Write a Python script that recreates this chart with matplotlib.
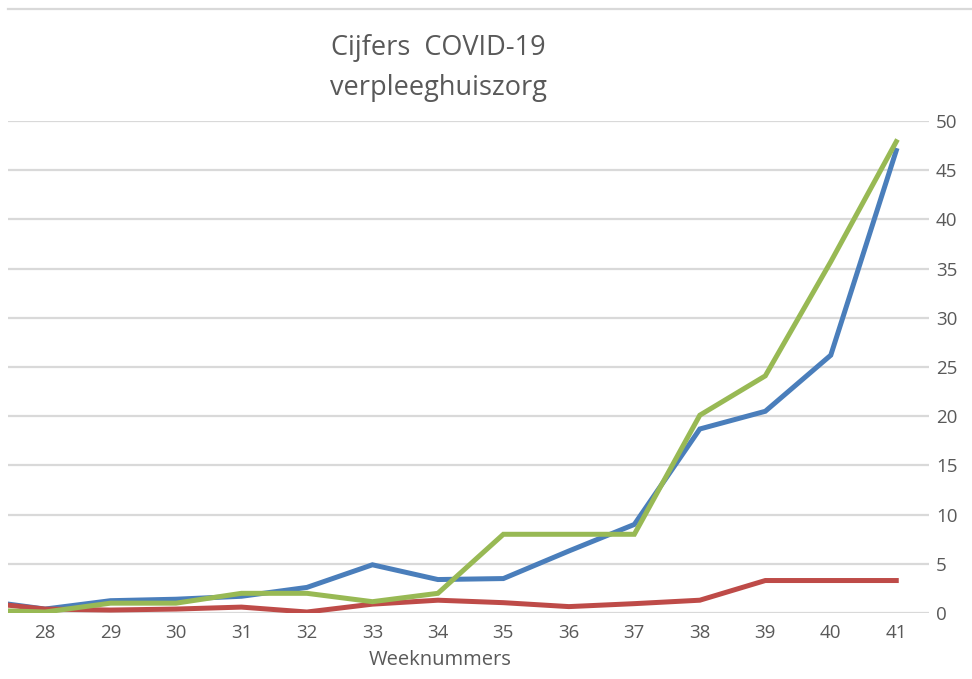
import matplotlib.pyplot as plt
from matplotlib.lines import Line2D

weeks = [27, 28, 29, 30, 31, 32, 33, 34, 35, 36, 37, 38, 39, 40, 41]
blue = [1.3, 0.4, 1.25, 1.4, 1.7, 2.6, 4.9, 3.4, 3.5, 6.3, 9.0, 18.7, 20.5, 26.2, 47.0]
red = [1.1, 0.4, 0.3, 0.4, 0.6, 0.1, 0.9, 1.3, 1.05, 0.65, 0.95, 1.3, 3.3, 3.3, 3.3]
green = [0.3, 0.1, 1.0, 1.0, 2.0, 2.0, 1.15, 2.0, 8.0, 8.0, 8.0, 20.1, 24.1, 35.7, 47.9]
yticks = [0, 5, 10, 15, 20, 25, 30, 35, 40, 45, 50]

plt.rcParams['font.family'] = ['Open Sans', 'DejaVu Sans']
grey = '#595959'

fig = plt.figure(figsize=(9.72, 6.79), dpi=100)
ax = fig.add_axes([8/972, 1 - 613/679, (929 - 8)/972, (613 - 121)/679])

ax.plot(weeks, blue, color='#4a7ebb', lw=3.6, solid_joinstyle='miter')
ax.plot(weeks, red, color='#be4b48', lw=3.6, solid_joinstyle='miter')
ax.plot(weeks, green, color='#98b954', lw=3.6, solid_joinstyle='miter')

ax.set_xlim(27.435, 41.5)
ax.set_ylim(0, 50)
ax.set_xticks(weeks[1:])
ax.set_xticklabels([str(w) for w in weeks[1:]])
ax.set_yticks(yticks)
ax.yaxis.tick_right()
ax.tick_params(axis='both', length=0, labelsize=13.5, colors=grey)
ax.tick_params(axis='y', pad=5)
ax.tick_params(axis='x', pad=8)
ax.grid(axis='y', color='#d9d9d9', lw=1.6)
ax.set_axisbelow(True)
for s in ax.spines.values():
    s.set_visible(False)

fig.text(438/972, 1 - 68/679, 'Cijfers  COVID-19\nverpleeghuiszorg', ha='center', va='center',
         fontsize=19.5, color=grey, linespacing=1.55)
fig.text(440/972, 1 - 660/679, 'Weeknummers', ha='center', va='center', fontsize=14.5, color=grey)

fig.add_artist(Line2D([8/972, 1], [1 - 9/679, 1 - 9/679], color='#d9d9d9', lw=1.6))

fig.savefig('out.png', dpi=100)
